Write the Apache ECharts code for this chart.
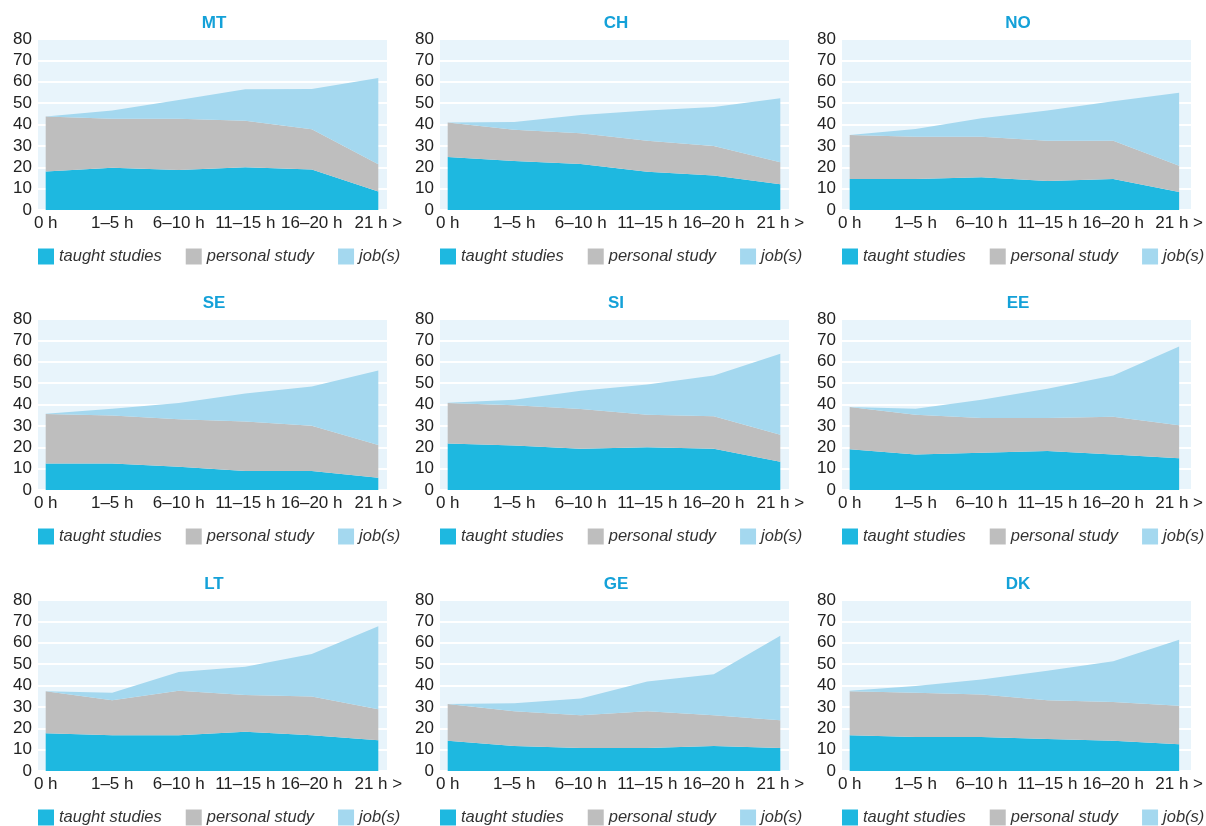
<!DOCTYPE html>
<html>
<head>
<meta charset="utf-8">
<title>Study and work hours</title>
<script src="https://cdn.jsdelivr.net/npm/echarts@6/dist/echarts.min.js"></script>
<style>
  html, body { margin: 0; padding: 0; background: #fff; }
  #chart { width: 1206px; height: 826px; }
</style>
</head>
<body>
<div id="chart"></div>
<script>
// x categories (hours of paid work per week)
var hours = ['0 h', '1–5 h', '6–10 h', '11–15 h', '16–20 h', '21 h >']
var countries = ['MT', 'CH', 'NO', 'SE', 'SI', 'EE', 'LT', 'GE', 'DK']
var seriesNames = ['taught studies', 'personal study', 'job(s)']
var yTicks = [0, 10, 20, 30, 40, 50, 60, 70, 80]

// hours per week, one row per country (same order as countries)
var taught = [
  [18, 19.8, 18.7, 20, 19, 8.6], // MT
  [24.8, 22.9, 21.5, 17.9, 16.1, 12], // CH
  [14.5, 14.5, 15.3, 13.6, 14.5, 8.4], // NO
  [12.4, 12.4, 10.9, 8.9, 8.9, 5.7], // SE
  [21.7, 20.8, 19.3, 20, 19.3, 13.2], // SI
  [19.1, 16.6, 17.4, 18.3, 16.6, 14.8], // EE
  [17.7, 16.7, 16.7, 18.4, 16.7, 14.4], // LT
  [14.1, 11.7, 10.8, 10.8, 11.7, 10.8], // GE
  [16.7, 15.9, 15.9, 15, 14.1, 12.5] // DK
]
var personal = [
  [25.7, 22.9, 24, 21.8, 18.8, 12.8],
  [16.1, 14.7, 14.4, 14.5, 13.9, 10.3],
  [20.6, 19.8, 19, 18.8, 17.9, 12.3],
  [23.2, 22.4, 22.2, 23.2, 21.2, 15.3],
  [19, 18.8, 18.6, 15.2, 15.2, 12.7],
  [19.7, 18.6, 16.3, 15.4, 17.7, 15.5],
  [19.6, 16.4, 20.8, 17.2, 18.1, 14.5],
  [17.2, 16.3, 15.3, 17.2, 14.4, 13],
  [20.6, 20.7, 19.9, 18.1, 18.2, 18]
]
var jobs = [
  [0.1, 3.8, 8.8, 14.7, 18.8, 40.4],
  [0, 3.6, 8.6, 14.1, 18.2, 30],
  [0, 3.6, 8.6, 14.1, 18.5, 34.2],
  [0.1, 3.2, 7.6, 13.1, 18.3, 34.9],
  [0.1, 2.6, 8.5, 14.2, 19.1, 37.8],
  [0, 2.8, 8.5, 13.7, 19.3, 36.8],
  [0, 3.5, 8.8, 13.2, 19.9, 38.8],
  [0.1, 3.7, 7.8, 13.9, 19.2, 39.5],
  [0.2, 3.2, 7, 13.8, 19, 30.9]
]

var colors = ['#1eb8e0', '#bebebe', '#a4d8ef']
var font = 'Liberation Sans, Arial, sans-serif'

var colLeft = [38, 440, 842]
var rowTop = [39, 319, 600]
var bgW = 349 // light blue panel, a bit wider than the data range
var padL = 7.7 // gap between panel edge and first/last category
var padR = 8.7
var gridH = 171

var chart = echarts.init(document.getElementById('chart'))

var grids = []
var xAxes = []
var yAxes = []
var titles = []
var legends = []
var series = []

countries.forEach(function(name, i) {
  var r = Math.floor(i / 3)
  var c = i % 3
  var left = colLeft[c]
  var top = rowTop[r]
  var g = i * 2

  // background grid: blue panel, y labels, white split lines
  grids.push({
    left: left,
    top: top,
    width: bgW,
    height: gridH,
    show: true,
    backgroundColor: '#e8f4fb',
    borderWidth: 0
  })
  // data grid: stacked areas and the hour labels
  grids.push({
    left: left + padL,
    top: top,
    width: bgW - padL - padR,
    height: gridH
  })

  xAxes.push({ gridIndex: g, type: 'value', show: false, min: 0, max: 1 })
  yAxes.push({
    gridIndex: g,
    type: 'value',
    min: yTicks[0],
    max: yTicks[yTicks.length - 1],
    interval: 10,
    axisLine: { show: false },
    axisTick: { show: false },
    splitLine: { show: true, lineStyle: { color: '#ffffff', width: 2 } },
    axisLabel: {
      margin: 6,
      color: '#222',
      fontSize: 17,
      fontFamily: font
    }
  })

  xAxes.push({
    gridIndex: g + 1,
    type: 'category',
    boundaryGap: false,
    data: hours,
    axisLine: { show: false },
    axisTick: { show: false },
    splitLine: { show: false },
    axisLabel: {
      interval: 0,
      margin: 5,
      color: '#222',
      fontSize: 17,
      fontFamily: font
    }
  })
  yAxes.push({
    gridIndex: g + 1,
    type: 'value',
    min: yTicks[0],
    max: yTicks[yTicks.length - 1],
    interval: 10,
    show: false,
    splitLine: { show: false }
  })

  titles.push({
    text: name,
    left: left + 171,
    top: top - 29,
    textAlign: 'center',
    textStyle: {
      color: '#14a1d8',
      fontSize: 17,
      fontWeight: 'bold',
      fontFamily: font
    }
  })
  legends.push({
    left: left,
    top: top + gridH + 38,
    padding: 0,
    icon: 'rect',
    itemWidth: 16,
    itemHeight: 16,
    itemGap: 24,
    data: seriesNames,
    textStyle: {
      fontStyle: 'italic',
      fontSize: 16.5,
      color: '#333',
      fontFamily: font
    }
  })

  var vals = [taught[i], personal[i], jobs[i]]
  seriesNames.forEach(function(sn, k) {
    series.push({
      name: sn,
      type: 'line',
      xAxisIndex: g + 1,
      yAxisIndex: g + 1,
      stack: 'p' + i,
      showSymbol: false,
      silent: true,
      lineStyle: { width: 0 },
      itemStyle: { color: colors[k] },
      areaStyle: { color: colors[k], opacity: 1 },
      data: vals[k]
    })
  })
})

chart.setOption({
  animation: false,
  title: titles,
  legend: legends,
  grid: grids,
  xAxis: xAxes,
  yAxis: yAxes,
  series: series
})
</script>
</body>
</html>
